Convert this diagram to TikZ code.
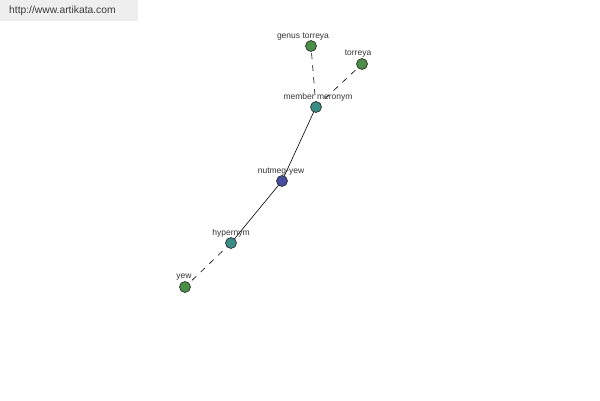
\documentclass[tikz,border=0pt]{standalone}
\usepackage{fontspec}
\setmainfont{Liberation Sans}
\definecolor{boxgrey}{HTML}{EEEEEE}
\definecolor{urltext}{HTML}{3A3A3A}
\definecolor{green1}{HTML}{4A8F45}
\definecolor{teal1}{HTML}{3C8C86}
\definecolor{blue1}{HTML}{484E9E}
\definecolor{edgegrey}{HTML}{222222}
\begin{document}
\begin{tikzpicture}[x=1pt,y=-1pt,
  dot/.style={circle,draw=edgegrey,line width=0.6pt,minimum size=11pt,inner sep=0pt},
  lbl/.style={font=\fontsize{8.5}{10}\selectfont,text=black!80,inner sep=0pt},
  link/.style={line width=0.6pt,black},
  dlink/.style={line width=0.6pt,black,dash pattern=on 6pt off 6pt}]
\useasboundingbox (0,0) rectangle (600,400);
\fill[boxgrey] (0,0) rectangle (138,21);
\node[font=\fontsize{10.3}{12}\selectfont,text=urltext,anchor=west,inner sep=0pt] (url) at (9,11) {http://www.artikata.com};
% edges
\coordinate (cgt) at (311,46);
\coordinate (ct) at (362,64);
\coordinate (cmm) at (316,107);
\coordinate (cny) at (282,181);
\coordinate (chy) at (231,243);
\coordinate (cy) at (185,287);
\draw[dlink] (cmm) -- (cgt);
\draw[dlink] (cmm) -- (ct);
\draw[link] (cmm) -- (cny);
\draw[link] (cny) -- (chy);
\draw[dlink] (chy) -- (cy);
% nodes
\node[dot,fill=green1] (gt) at (cgt) {};
\node[dot,fill=green1] (t) at (ct) {};
\node[dot,fill=teal1] (mm) at (cmm) {};
\node[dot,fill=blue1] (ny) at (cny) {};
\node[dot,fill=teal1] (hy) at (chy) {};
\node[dot,fill=green1] (y) at (cy) {};
% labels
\node[lbl] (lgt) at (303,36.5) {genus torreya};
\node[lbl] (lt) at (358,53.5) {torreya};
\node[lbl] (lmm) at (318,97.5) {member meronym};
\node[lbl] (lny) at (281,171.5) {nutmeg-yew};
\node[lbl] (lhy) at (231,233.5) {hypernym};
\node[lbl] (ly) at (184,277.5) {yew};
\end{tikzpicture}
\end{document}
